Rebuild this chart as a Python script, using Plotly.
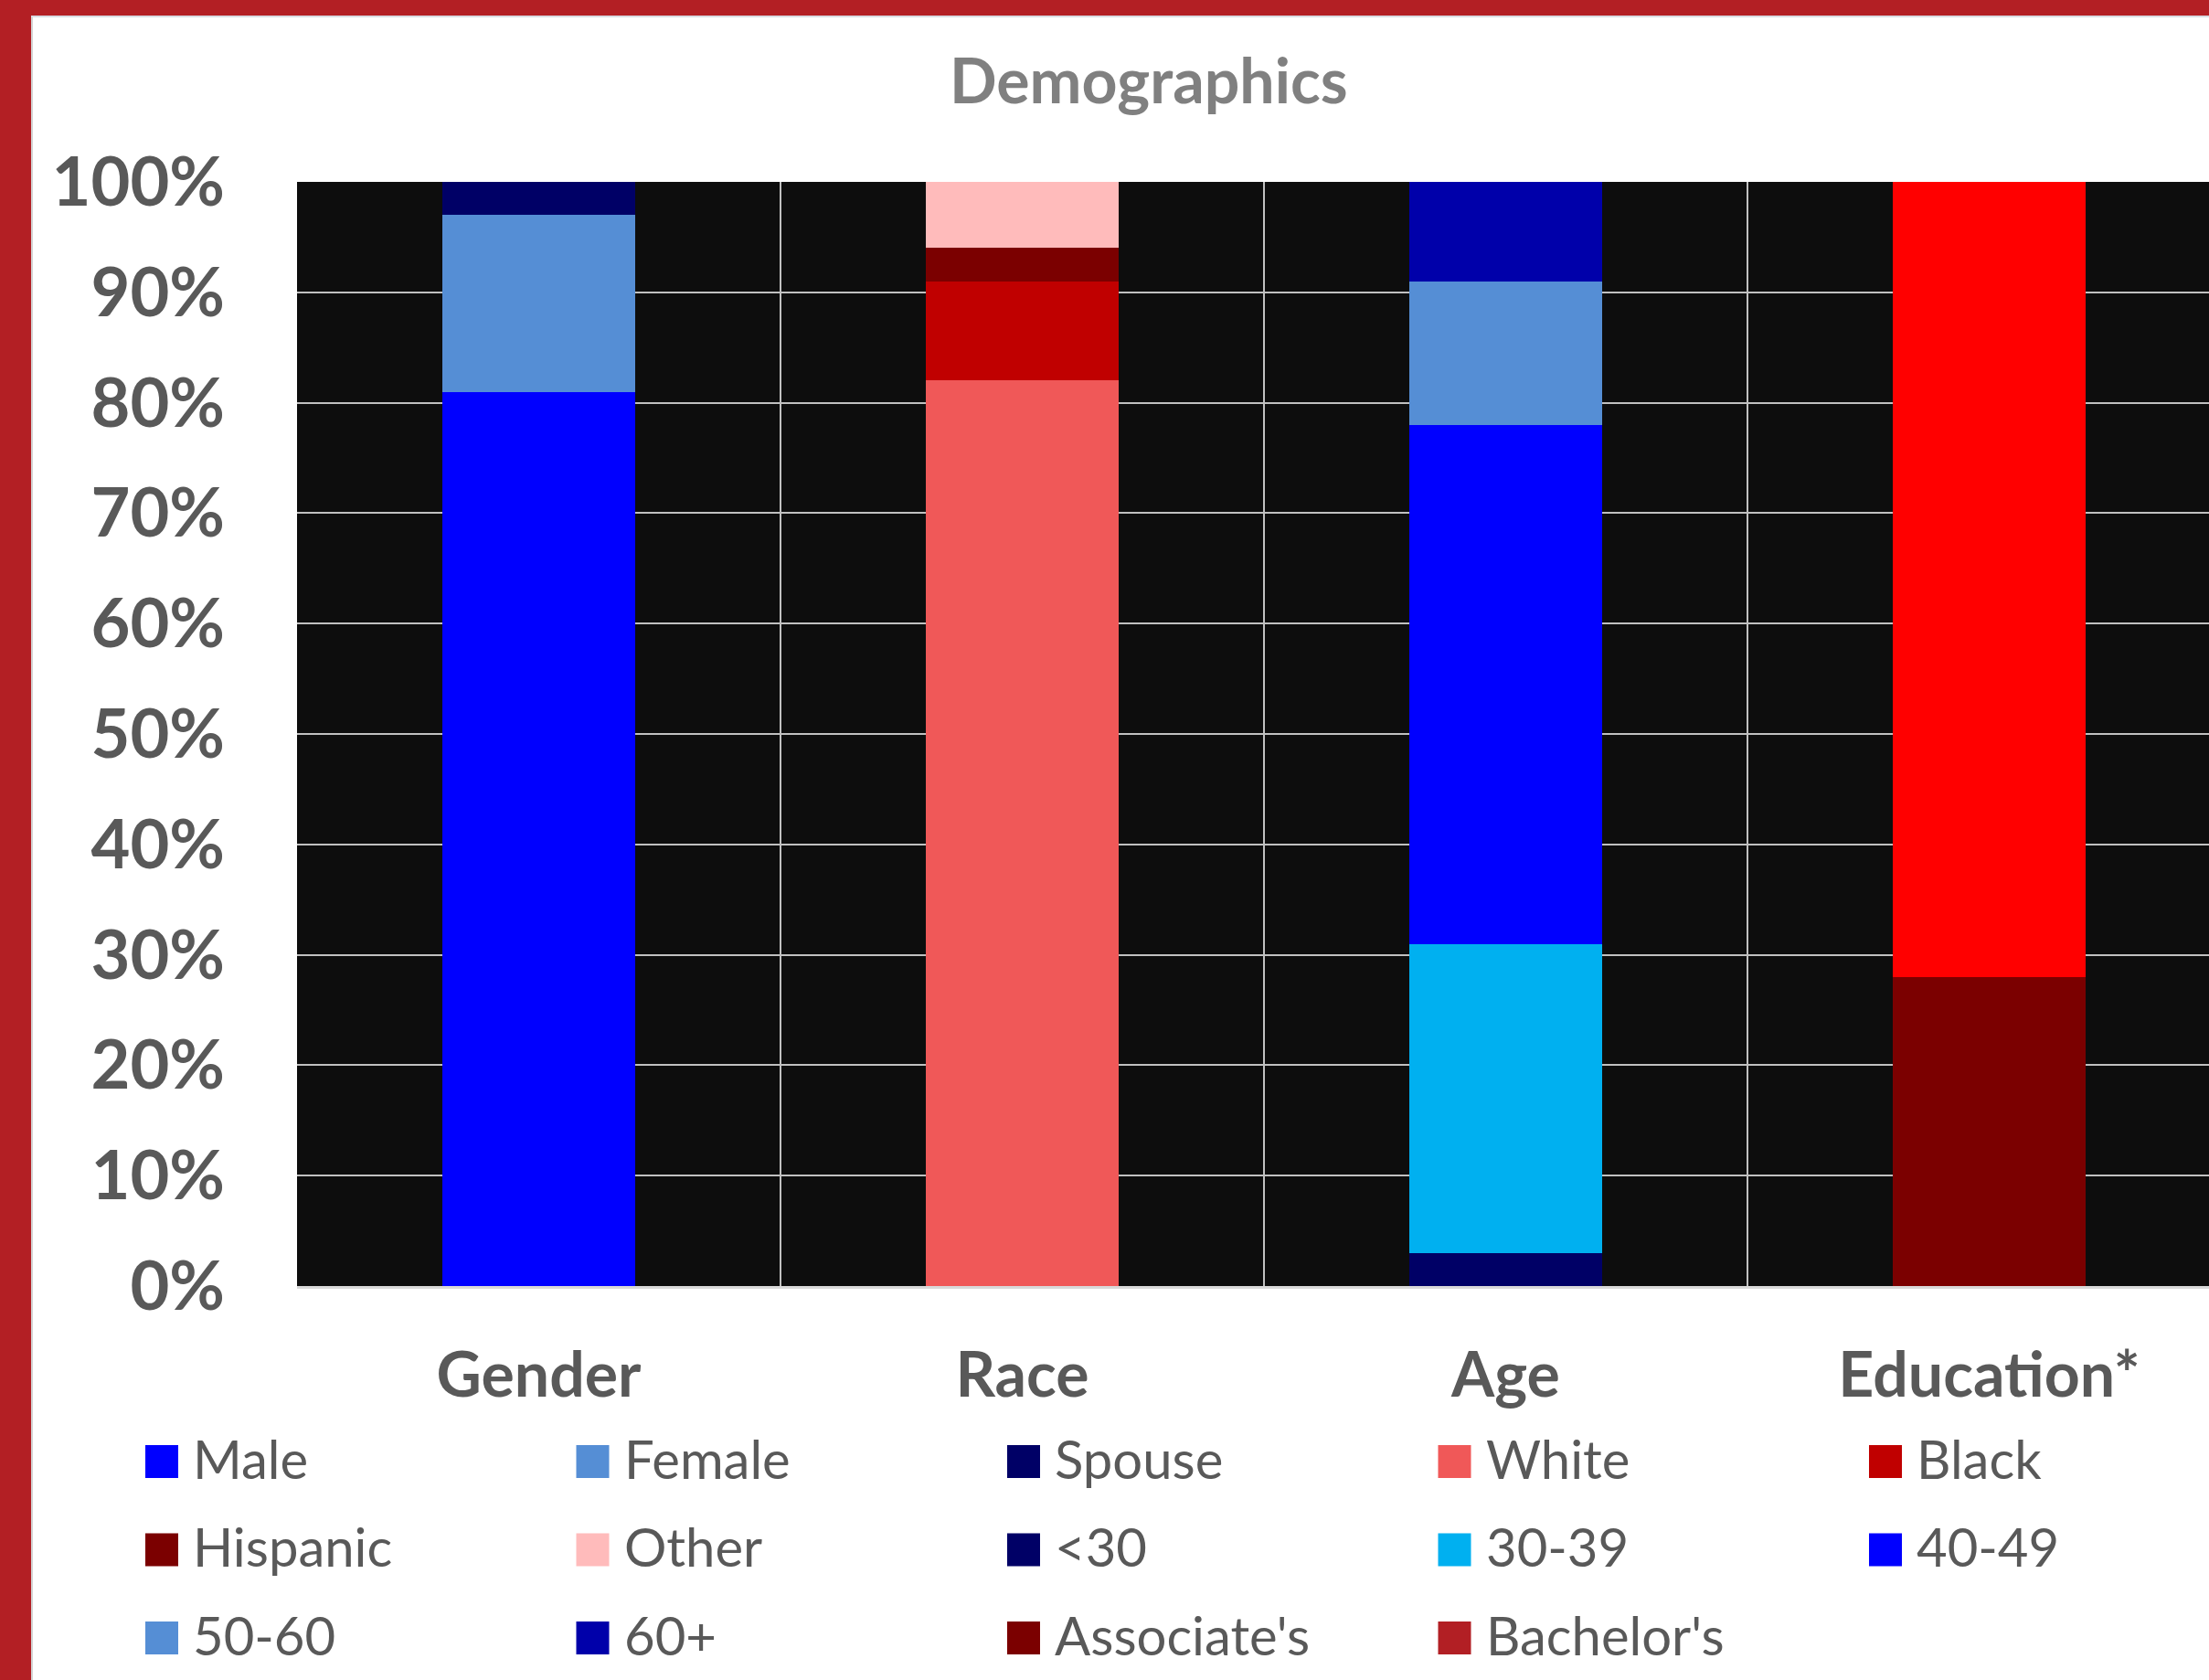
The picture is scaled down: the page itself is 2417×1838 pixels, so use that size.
import plotly.graph_objects as go

# ---------------- data ----------------
categories = ["Gender", "Race", "Age", "Education*"]
series_names = ["Male", "Female", "Spouse", "White", "Black",
                "Hispanic", "Other", "<30", "30-39", "40-49",
                "50-60", "60+", "Associate's", "Bachelor's"]
series_category = ["Gender", "Gender", "Gender", "Race", "Race",
                   "Race", "Race", "Age", "Age", "Age",
                   "Age", "Age", "Education*", "Education*"]
series_values = [81, 16, 3, 82, 9,
                 3, 6, 3, 28, 47,
                 13, 9, 28, 72]          # percent
bar_colors = ["#0000FF", "#558ED5", "#000066", "#F05858", "#C00000",
              "#7B0000", "#FFBBBB", "#000066", "#00B0F0", "#0000FF",
              "#558ED5", "#0000AA", "#7B0000", "#FF0000"]
legend_colors = ["#0000FF", "#558ED5", "#000066", "#F05858", "#C00000",
                 "#7B0000", "#FFBBBB", "#000066", "#00B0F0", "#0000FF",
                 "#558ED5", "#0000AA", "#7B0000", "#B21F24"]
y_ticks = [0, 10, 20, 30, 40, 50, 60, 70, 80, 90, 100]

# ---------------- geometry ----------------
W, H = 2417, 1838
L, T, B = 325, 199, 1407
PW, PH = W - L, B - T


def px(x):
    return (x - L) / PW


def py(y):
    return (B - y) / PH


FONT = "Lato"
DARK = "#595959"

fig = go.Figure()
for name, cat, val, col in zip(series_names, series_category, series_values, bar_colors):
    fig.add_trace(go.Bar(
        x=[cat], y=[val / 100], name=name,
        marker=dict(color=col, line=dict(width=0)),
        width=0.4, showlegend=False,
        hovertemplate=name + ": %{y:.0%}<extra></extra>",
    ))

shapes = [
    # red frame
    dict(type="rect", xref="paper", yref="paper", x0=px(0), x1=px(34), y0=py(H), y1=py(0),
         fillcolor="#B31F24", line=dict(width=0), layer="above"),
    dict(type="rect", xref="paper", yref="paper", x0=px(0), x1=px(W), y0=py(17), y1=py(0),
         fillcolor="#B31F24", line=dict(width=0), layer="above"),
    dict(type="rect", xref="paper", yref="paper", x0=px(34), x1=px(36), y0=py(H), y1=py(17),
         fillcolor="#D4D4D4", line=dict(width=0), layer="above"),
    dict(type="rect", xref="paper", yref="paper", x0=px(34), x1=px(W), y0=py(19), y1=py(17),
         fillcolor="#D9DCE3", line=dict(width=0), layer="above"),
]
annotations = [
    dict(text="Demographics", xref="paper", yref="paper", x=px(1257), y=py(86),
         xanchor="center", yanchor="middle", showarrow=False,
         font=dict(family=FONT, size=68, color="#808080", weight="bold")),
]

# manual legend (5 columns)
for i, (name, col) in enumerate(zip(series_names, legend_colors)):
    c, r = i % 5, i // 5
    mx = 159 + c * 471.5
    my = 1599 + r * 96.5
    shapes.append(dict(type="rect", xref="paper", yref="paper",
                       x0=px(mx), x1=px(mx + 36), y0=py(my + 18), y1=py(my - 18),
                       fillcolor=col, line=dict(width=0), layer="above"))
    annotations.append(dict(text=name, xref="paper", yref="paper",
                            x=px(mx + 50), y=py(my - 4), xanchor="left", yanchor="middle",
                            showarrow=False,
                            font=dict(family=FONT, size=58, color=DARK)))

fig.update_layout(
    width=W, height=H,
    margin=dict(l=L, r=0, t=T, b=H - B, pad=0),
    paper_bgcolor="white",
    plot_bgcolor="#0D0D0D",
    barmode="stack",
    bargap=0.6,
    showlegend=False,
    shapes=shapes,
    annotations=annotations,
    xaxis=dict(
        type="category", categoryorder="array", categoryarray=categories,
        range=[-0.5, (W - L) / 529 - 0.5],
        tickson="boundaries", showgrid=True, gridcolor="#C0C0C0", gridwidth=2,
        ticks="", showline=True, linecolor="#D9D9D9", linewidth=3,
        tickfont=dict(family=FONT, size=68, color=DARK, weight="bold"),
        ticklabelstandoff=36,
        zeroline=False, fixedrange=True,
    ),
    yaxis=dict(
        range=[0, 1],
        tickvals=[t / 100 for t in y_ticks],
        ticktext=[f"{t}%" for t in y_ticks],
        showgrid=True, gridcolor="#C0C0C0", gridwidth=2,
        ticks="", showline=False, zeroline=False,
        tickfont=dict(family=FONT, size=74, color=DARK, weight="bold"),
        ticklabelstandoff=78, fixedrange=True,
    ),
)

fig.write_html("out.html", config={"displayModeBar": False})
